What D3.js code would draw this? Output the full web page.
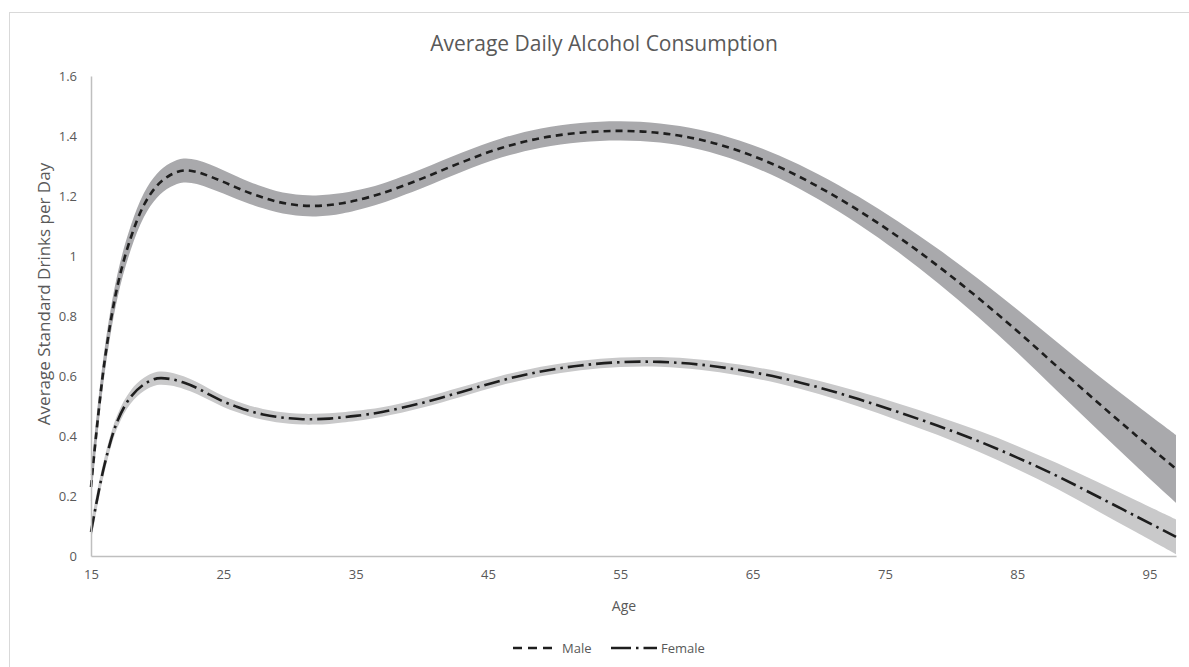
<!DOCTYPE html>
<html><head><meta charset="utf-8">
<script src="https://cdn.jsdelivr.net/npm/d3@7"></script>
<style>
html,body{margin:0;padding:0;background:#fff;}
svg text{font-family:"Open Sans",sans-serif;fill:#595959;}
</style></head>
<body><svg id="c" width="1189" height="667"></svg>
<script>
const ages = [15,16,17,18,19,20,21,22,23,24,25,26,27,28,29,30,31,32,33,34,35,37,40,43,46,49,52,55,58,61,64,67,70,73,76,79,82,85,88,91,94,97];
const maleMean = [0.23,0.64,0.90,1.06,1.17,1.235,1.27,1.285,1.28,1.265,1.247,1.228,1.21,1.195,1.182,1.173,1.168,1.167,1.170,1.176,1.185,1.209,1.258,1.312,1.36,1.393,1.411,1.417,1.41,1.388,1.35,1.297,1.23,1.152,1.064,0.967,0.862,0.75,0.632,0.515,0.401,0.29];
const maleCI = [0.05,0.042,0.04,0.04,0.04,0.04,0.04,0.04,0.04,0.04,0.039,0.038,0.037,0.036,0.035,0.035,0.035,0.035,0.035,0.034,0.033,0.032,0.032,0.032,0.032,0.032,0.032,0.032,0.032,0.033,0.035,0.038,0.042,0.046,0.051,0.057,0.064,0.072,0.081,0.091,0.102,0.113];
const femaleMean = [0.08,0.30,0.45,0.53,0.572,0.592,0.59,0.578,0.56,0.537,0.515,0.498,0.483,0.472,0.464,0.459,0.456,0.456,0.458,0.462,0.467,0.48,0.51,0.547,0.585,0.615,0.635,0.646,0.647,0.638,0.62,0.595,0.562,0.523,0.48,0.434,0.384,0.328,0.267,0.2,0.132,0.064];
const femaleCI = [0.03,0.024,0.022,0.022,0.022,0.022,0.022,0.021,0.02,0.019,0.018,0.018,0.018,0.018,0.018,0.018,0.018,0.018,0.018,0.017,0.017,0.016,0.016,0.016,0.016,0.016,0.016,0.016,0.016,0.017,0.018,0.02,0.022,0.025,0.028,0.031,0.035,0.039,0.043,0.048,0.053,0.058];
const xTicks = [15,25,35,45,55,65,75,85,95];
const yTicks = [0,0.2,0.4,0.6,0.8,1,1.2,1.4,1.6];
const seriesNames = ["Male","Female"];

const svg = d3.select("#c");
const m = {l:91, r:1176, t:76, b:556};

svg.append("rect").attr("x",9.5).attr("y",12.5).attr("width",1300).attr("height",800)
  .attr("fill","none").attr("stroke","#d9d9d9").attr("stroke-width",1);

const x = d3.scaleLinear().domain([15,97]).range([m.l,m.r]);
const y = d3.scaleLinear().domain([0,1.6]).range([m.b,m.t]);

const series = [
  {name:"Male", mean:maleMean, ci:maleCI, band:"#a9a9ac", dash:"7,5"},
  {name:"Female", mean:femaleMean, ci:femaleCI, band:"#c9c9ca", dash:"16,5,2.5,5"}
];

const curve = d3.curveCatmullRom.alpha(0.5);
const area = d3.area().x(d=>x(d.a)).y0(d=>y(d.lo)).y1(d=>y(d.hi)).curve(curve);
const line = d3.line().x(d=>x(d.a)).y(d=>y(d.v)).curve(curve);

series.forEach(s=>{
  const pts = ages.map((a,i)=>({a, v:s.mean[i], lo:s.mean[i]-s.ci[i], hi:s.mean[i]+s.ci[i]}));
  s.pts = pts;
  svg.append("path").datum(pts).attr("d",area).attr("fill",s.band);
});
series.forEach(s=>{
  svg.append("path").datum(s.pts).attr("d",line).attr("fill","none")
    .attr("stroke","#1e1e1e").attr("stroke-width",2.6).attr("stroke-dasharray",s.dash);
});

// axes
const yAxis = svg.append("g").attr("transform",`translate(${m.l},0)`)
  .call(d3.axisLeft(y).tickValues(yTicks).tickSize(0).tickPadding(14).tickFormat(d=>d3.format("")(d)));
yAxis.select(".domain").attr("stroke","#bfbfbf").attr("stroke-width",1.5);
yAxis.selectAll("text").style("font-size","13px");

const xAxis = svg.append("g").attr("transform",`translate(0,${m.b})`)
  .call(d3.axisBottom(x).tickValues(xTicks).tickSize(0).tickPadding(14).tickFormat(d3.format("d")));
xAxis.select(".domain").attr("stroke","#bfbfbf").attr("stroke-width",1.5);
xAxis.selectAll("text").style("font-size","13px");

// titles
svg.append("text").attr("x",604).attr("y",51).attr("text-anchor","middle")
  .style("font-size","21px").text("Average Daily Alcohol Consumption");
svg.append("text").attr("x",624).attr("y",611).attr("text-anchor","middle")
  .style("font-size","14px").text("Age");
svg.append("text").attr("transform","translate(50,294) rotate(-90)").attr("text-anchor","middle")
  .style("font-size","17px").text("Average Standard Drinks per Day");

// legend
const leg = [{x1:513,x2:558,tx:562},{x1:611,x2:657,tx:661}];
series.forEach((s,i)=>{
  const L = leg[i];
  svg.append("line").attr("x1",L.x1).attr("x2",L.x2).attr("y1",648).attr("y2",648)
    .attr("stroke","#1e1e1e").attr("stroke-width",2.6)
    .attr("stroke-dasharray", i===0 ? "9,6" : "20,5,2.5,5");
  svg.append("text").attr("x",L.tx).attr("y",653).style("font-size","13px").text(seriesNames[i]);
});
</script></body></html>
